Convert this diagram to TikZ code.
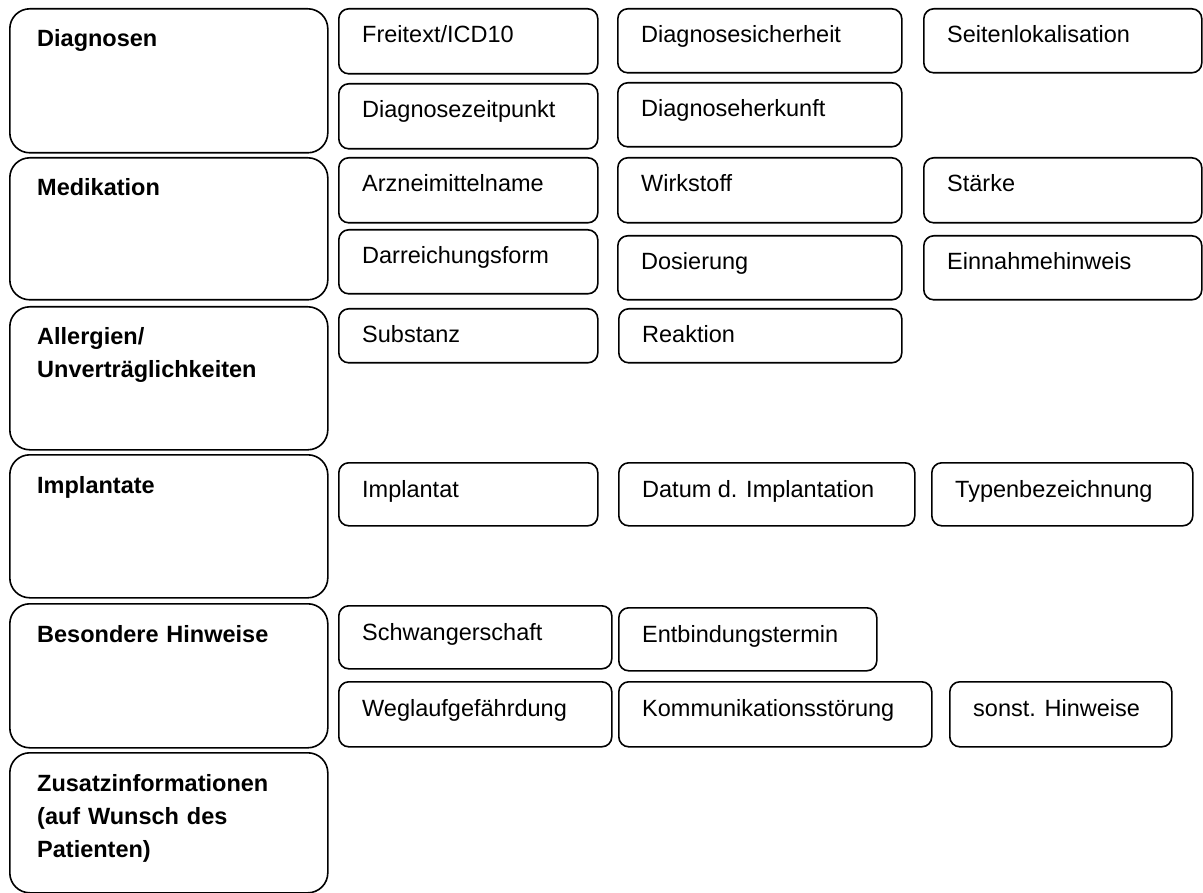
\documentclass[tikz,border=0pt]{standalone}
\usepackage{fontspec}
\setmainfont{Liberation Sans}
\usetikzlibrary{calc}
\tikzset{
  bigbox/.style={draw=black, line width=1.6pt, rounded corners=20pt, inner sep=0pt, anchor=north west},
  smallbox/.style={draw=black, line width=1.6pt, rounded corners=10pt, inner sep=0pt, anchor=north west},
  headtext/.style={anchor=base west, inner sep=0pt, text width=280pt, align=left, font=\fontsize{23.5}{33}\selectfont\bfseries},
  celltext/.style={anchor=base west, inner sep=0pt, font=\fontsize{23.5}{28}\selectfont}
}
\newcommand\headcell[6]{%
  \node[bigbox, minimum width=#4-#2, minimum height=#5-#3] (#1) at (#2,#3) {};
  \node[headtext] (#1-t) at ($(#1.north west)+(28,39)$) {#6};
}
\newcommand\itemcell[6]{%
  \node[smallbox, minimum width=#4-#2, minimum height=#5-#3] (#1) at (#2,#3) {};
  \node[celltext] (#1-t) at ($(#1.north west)+(24,35)$) {#6};
}
\begin{document}
\begin{tikzpicture}[x=1pt,y=-1pt]
\useasboundingbox (0,0) rectangle (1203,893);
% left category boxes
\headcell{diag}{9}{8}{327}{152}{Diagnosen}
\headcell{medi}{9}{157}{327}{299}{Medikation}
\headcell{allerg}{9}{306}{327}{449}{Allergien/\\Unverträglichkeiten}
\headcell{impl}{9}{454}{327}{597}{Implantate}
\headcell{bes}{9}{603}{327}{747}{Besondere Hinweise}
\headcell{zus}{9}{752}{327}{892}{Zusatzinformationen\\(auf Wunsch des\\Patienten)}
% Diagnosen
\itemcell{freitext}{338}{8}{597}{73}{Freitext/ICD10}
\itemcell{dsich}{617}{8}{901}{72}{Diagnosesicherheit}
\itemcell{seiten}{923}{8}{1201}{72}{Seitenlokalisation}
\itemcell{dzeit}{338}{83}{597}{148}{Diagnosezeitpunkt}
\itemcell{dherk}{617}{82}{901}{146}{Diagnoseherkunft}
% Medikation
\itemcell{arz}{338}{157}{597}{222}{Arzneimittelname}
\itemcell{wirk}{617}{157}{901}{222}{Wirkstoff}
\itemcell{staerke}{923}{157}{1201}{222}{Stärke}
\itemcell{darr}{338}{229}{597}{293}{Darreichungsform}
\itemcell{dos}{617}{235}{901}{299}{Dosierung}
\itemcell{einn}{923}{235}{1201}{299}{Einnahmehinweis}
% Allergien
\itemcell{subst}{338}{308}{597}{362}{Substanz}
\itemcell{reak}{618}{308}{901}{362}{Reaktion}
% Implantate
\itemcell{implantat}{338}{462}{597}{525}{Implantat}
\itemcell{datum}{618}{462}{914}{525}{Datum d. Implantation}
\itemcell{typen}{931}{462}{1192}{525}{Typenbezeichnung}
% Besondere Hinweise
\itemcell{schw}{338}{605}{611}{668}{Schwangerschaft}
\itemcell{entb}{618}{607}{876}{670}{Entbindungstermin}
\itemcell{weg}{338}{681}{611}{746}{Weglaufgefährdung}
\itemcell{komm}{618}{681}{931}{746}{Kommunikationsstörung}
\itemcell{sonst}{949}{681}{1171}{746}{sonst. Hinweise}
\end{tikzpicture}
\end{document}
